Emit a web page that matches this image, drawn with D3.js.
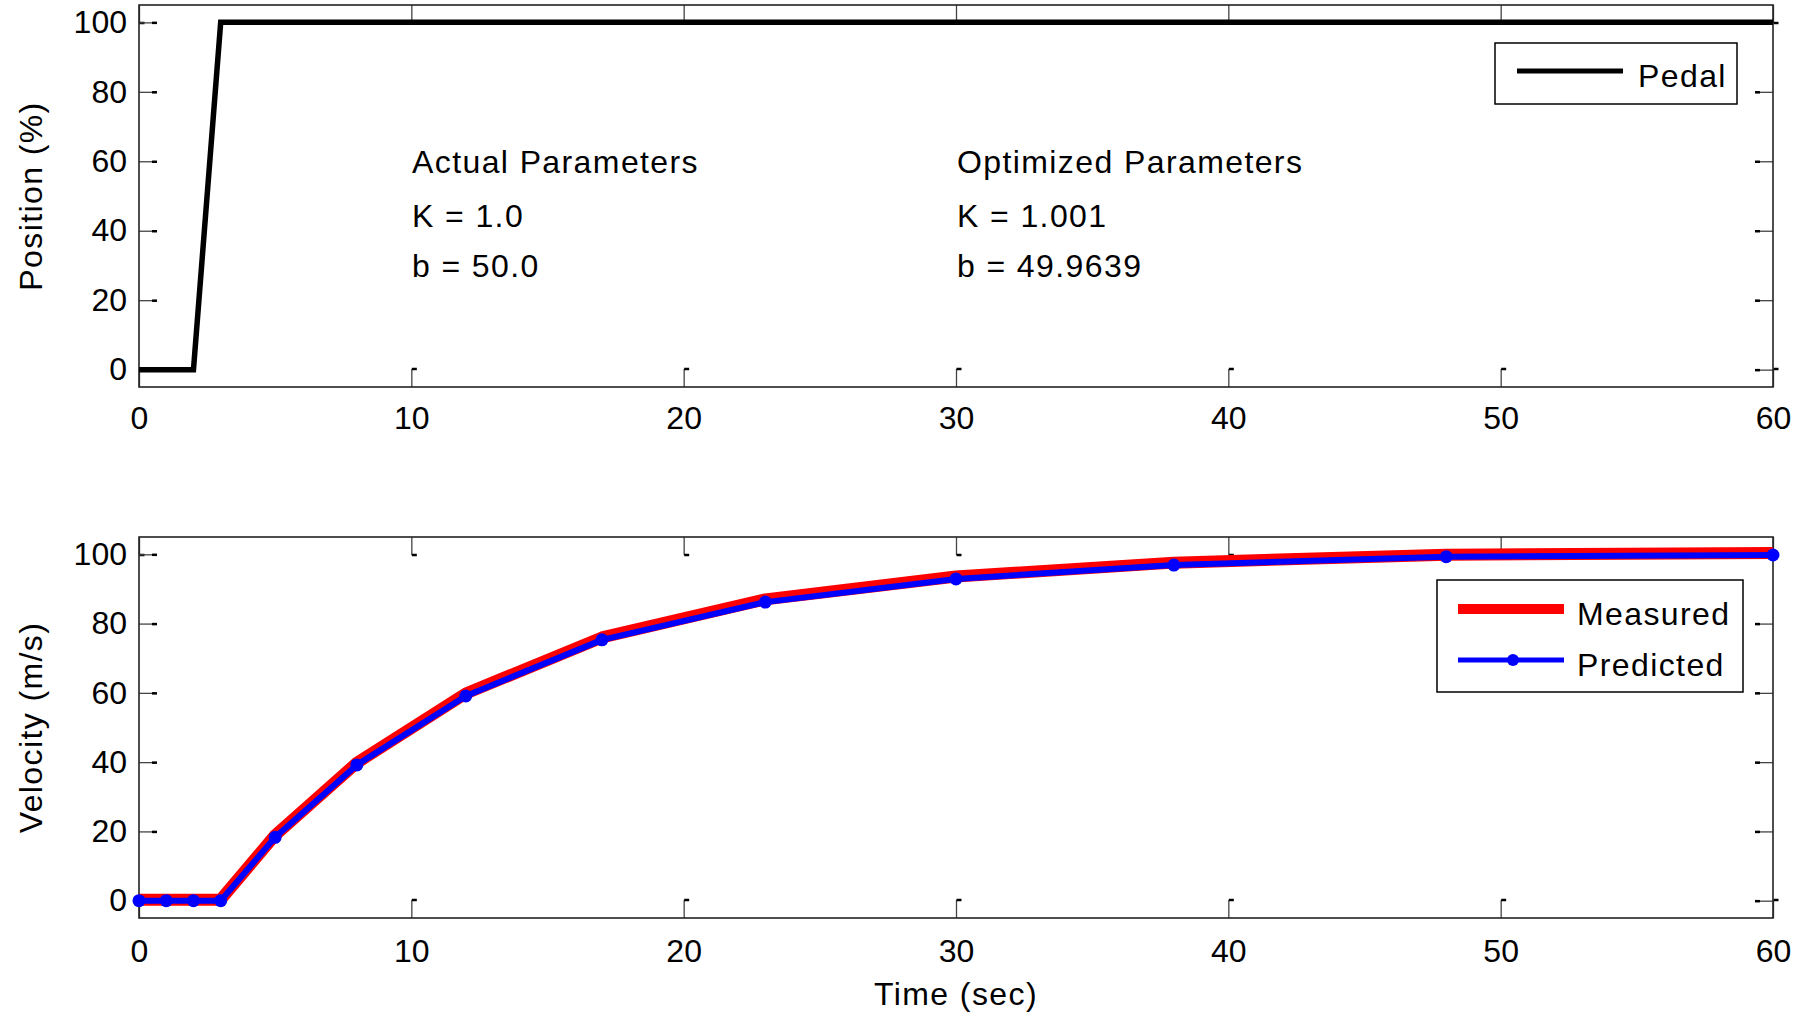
<!DOCTYPE html>
<html>
<head>
<meta charset="utf-8">
<script src="https://cdn.jsdelivr.net/npm/d3@7"></script>
<style>
  body { margin: 0; background: #fff; }
  svg text { font-family: "Liberation Sans", Arial, sans-serif; fill: #000; }
  svg text.lbl { letter-spacing: 1.4px; }
</style>
</head>
<body>
<div id="chart"></div>
<script>
// pedal input
var pedalTime = [0, 2, 3, 60];
var pedalPos = [0, 0, 100, 100];

// velocity response
var velTime = [0, 1, 2, 3, 5, 8, 12, 17, 23, 30, 38, 48, 60];
var measured = [0.3, 0.3, 0.3, 0.3, 18.9, 39.8, 59.8, 76.0, 87.0, 93.6, 97.6, 99.9, 100.4];
var predicted = [0, 0, 0, 0, 18.3, 39.2, 59.1, 75.3, 86.2, 92.9, 96.9, 99.3, 99.8];

var xTicks = [0, 10, 20, 30, 40, 50, 60];
var yTicks = [0, 20, 40, 60, 80, 100];

var actualText = ['Actual Parameters', 'K = 1.0', 'b = 50.0'];
var optimText = ['Optimized Parameters', 'K = 1.001', 'b = 49.9639'];

var W = 1802, H = 1015;
var left = 139, right = 1773;
var fontSize = 32;

var svg = d3.select('#chart').append('svg')
  .attr('width', W).attr('height', H)
  .attr('viewBox', '0 0 ' + W + ' ' + H);

var x = d3.scaleLinear().domain([0, 60]).range([left, right]);

function drawAxes(top, bottom, ylabel, pad) {
  var y = d3.scaleLinear().domain([-5, 105]).range([bottom, top]);
  var g = svg.append('g');

  g.append('rect').attr('x', left).attr('y', top)
    .attr('width', right - left).attr('height', bottom - top)
    .attr('fill', '#fff');

  var tl = 18;
  var gb = g.append('g').attr('transform', 'translate(0,' + bottom + ')')
    .call(d3.axisBottom(x).tickValues(xTicks).tickSize(-tl).tickPadding(pad).tickSizeOuter(0));
  var gt = g.append('g').attr('transform', 'translate(0,' + top + ')')
    .call(d3.axisTop(x).tickValues(xTicks).tickSize(-tl).tickFormat('').tickSizeOuter(0));
  var gl = g.append('g').attr('transform', 'translate(' + left + ',0)')
    .call(d3.axisLeft(y).tickValues(yTicks).tickSize(-tl).tickPadding(12).tickSizeOuter(0));
  var gr = g.append('g').attr('transform', 'translate(' + right + ',0)')
    .call(d3.axisRight(y).tickValues(yTicks).tickSize(-tl).tickFormat('').tickSizeOuter(0));

  [gb, gt, gl, gr].forEach(function(a) {
    a.select('.domain').remove();
    a.selectAll('.tick line').attr('stroke', '#444').attr('stroke-width', 1.3);
    a.selectAll('.tick text').attr('font-size', fontSize).attr('font-family', '"Liberation Sans", Arial, sans-serif');
  });

  // little hooks at the inner end of the ticks
  gb.selectAll('.tick').append('line')
    .attr('x1', 0).attr('x2', 5).attr('y1', -tl).attr('y2', -tl)
    .attr('stroke', '#000').attr('stroke-width', 2.5);
  gt.selectAll('.tick').append('line')
    .attr('x1', 0).attr('x2', 5).attr('y1', tl).attr('y2', tl)
    .attr('stroke', '#000').attr('stroke-width', 2.5);
  gl.selectAll('.tick').append('line')
    .attr('x1', tl - 5).attr('x2', tl).attr('y1', 0).attr('y2', 0)
    .attr('stroke', '#000').attr('stroke-width', 2.5);
  gr.selectAll('.tick').append('line')
    .attr('x1', -tl).attr('x2', -tl + 5).attr('y1', 0).attr('y2', 0)
    .attr('stroke', '#000').attr('stroke-width', 2.5);

  g.append('text').attr('class', 'lbl')
    .attr('transform', 'translate(' + 31 + ',' + ((top + bottom) / 2) + ') rotate(-90)')
    .attr('text-anchor', 'middle').attr('dy', '0.35em')
    .attr('font-size', fontSize)
    .text(ylabel);

  return { g: g, y: y, top: top, bottom: bottom };
}

function drawFrame(ax) {
  ax.g.append('rect').attr('x', left).attr('y', ax.top)
    .attr('width', right - left).attr('height', ax.bottom - ax.top)
    .attr('fill', 'none').attr('stroke', '#222').attr('stroke-width', 1.6);
}

// ---- top: pedal position
var ax1 = drawAxes(5, 387, 'Position (%)', 19);
drawFrame(ax1);

var pedalLine = d3.line()
  .x(function(d, i) { return x(pedalTime[i]); })
  .y(function(d) { return ax1.y(d); });
ax1.g.append('path').datum(pedalPos)
  .attr('d', pedalLine)
  .attr('fill', 'none').attr('stroke', '#000').attr('stroke-width', 5.5)
  .attr('stroke-linejoin', 'miter');

ax1.g.append('text').attr('class', 'lbl').attr('x', 412).attr('y', 173).attr('font-size', fontSize)
  .selectAll('tspan').data(actualText).enter().append('tspan')
  .attr('x', 412).attr('dy', function(d, i) { return i == 0 ? 0 : (i == 1 ? 54 : 50); })
  .text(function(d) { return d; });
ax1.g.append('text').attr('class', 'lbl').attr('x', 957).attr('y', 173).attr('font-size', fontSize)
  .selectAll('tspan').data(optimText).enter().append('tspan')
  .attr('x', 957).attr('dy', function(d, i) { return i == 0 ? 0 : (i == 1 ? 54 : 50); })
  .text(function(d) { return d; });

// legend (top)
var lg1 = ax1.g.append('g');
lg1.append('rect').attr('x', 1495).attr('y', 43).attr('width', 242).attr('height', 61)
  .attr('fill', '#fff').attr('stroke', '#000').attr('stroke-width', 1.5);
lg1.append('line').attr('x1', 1517).attr('x2', 1623).attr('y1', 71).attr('y2', 71)
  .attr('stroke', '#000').attr('stroke-width', 5);
lg1.append('text').attr('class', 'lbl').attr('x', 1638).attr('y', 87).attr('font-size', fontSize).text('Pedal');

// ---- bottom: velocity
var ax2 = drawAxes(537, 918, 'Velocity (m/s)', 21);
drawFrame(ax2);

var velLine = function(vals) {
  return d3.line()
    .x(function(d, i) { return x(velTime[i]); })
    .y(function(d) { return ax2.y(d); })(vals);
};
ax2.g.append('path').attr('d', velLine(measured))
  .attr('fill', 'none').attr('stroke', '#ff0000').attr('stroke-width', 12)
  .attr('stroke-linejoin', 'round');
ax2.g.append('path').attr('d', velLine(predicted))
  .attr('fill', 'none').attr('stroke', '#0000ff').attr('stroke-width', 6)
  .attr('stroke-linejoin', 'round');
ax2.g.selectAll('circle.pt').data(predicted).enter().append('circle')
  .attr('class', 'pt')
  .attr('cx', function(d, i) { return x(velTime[i]); })
  .attr('cy', function(d) { return ax2.y(d); })
  .attr('r', 6.5).attr('fill', '#0000ff');

// legend (bottom)
var lg2 = ax2.g.append('g');
lg2.append('rect').attr('x', 1437).attr('y', 580).attr('width', 306).attr('height', 112)
  .attr('fill', '#fff').attr('stroke', '#000').attr('stroke-width', 1.5);
lg2.append('line').attr('x1', 1458).attr('x2', 1564).attr('y1', 609).attr('y2', 609)
  .attr('stroke', '#ff0000').attr('stroke-width', 10);
lg2.append('text').attr('class', 'lbl').attr('x', 1577).attr('y', 625).attr('font-size', fontSize).text('Measured');
lg2.append('line').attr('x1', 1458).attr('x2', 1564).attr('y1', 660).attr('y2', 660)
  .attr('stroke', '#0000ff').attr('stroke-width', 5);
lg2.append('circle').attr('cx', 1513).attr('cy', 660).attr('r', 6).attr('fill', '#0000ff');
lg2.append('text').attr('class', 'lbl').attr('x', 1577).attr('y', 676).attr('font-size', fontSize).text('Predicted');

svg.append('text').attr('class', 'lbl').attr('x', (left + right) / 2).attr('y', 1005)
  .attr('text-anchor', 'middle').attr('font-size', fontSize).text('Time (sec)');
</script>
</body>
</html>
